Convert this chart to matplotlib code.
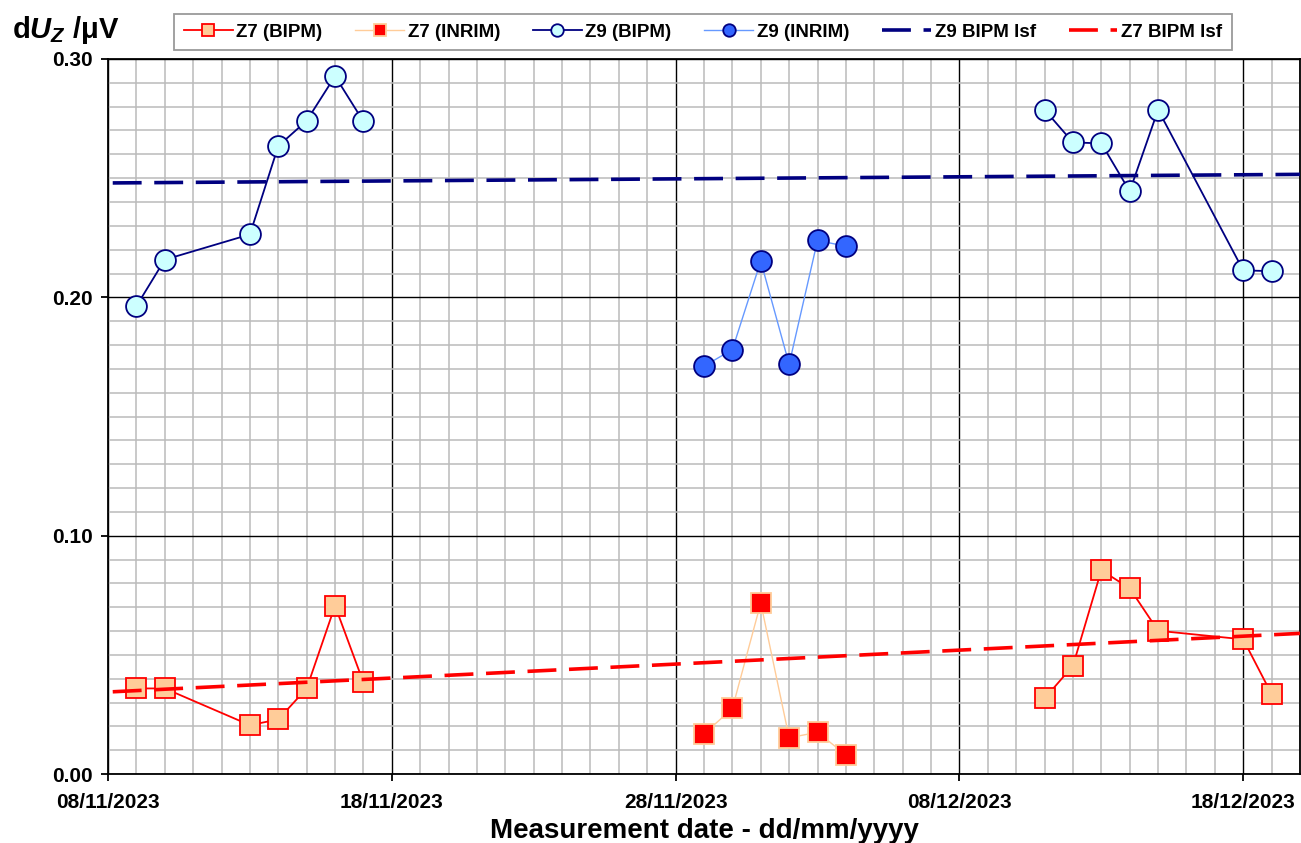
import numpy as np
import pandas as pd
import matplotlib
matplotlib.use('Agg')
import matplotlib.pyplot as plt
import matplotlib.dates as mdates
from matplotlib.ticker import MultipleLocator, FixedLocator, FormatStrFormatter

plt.rcParams['font.family'] = ['Liberation Sans', 'DejaVu Sans']
plt.rcParams['font.weight'] = 'bold'
plt.rcParams['mathtext.fontset'] = 'custom'
plt.rcParams['mathtext.it'] = 'Liberation Sans:italic:bold'
plt.rcParams['mathtext.rm'] = 'Liberation Sans:bold'

# data (dd/mm/yyyy, uV)
# BIPM measurements, before and after the travel to INRIM
bipm_dates_1 = ['09/11/2023', '10/11/2023', '13/11/2023', '14/11/2023', '15/11/2023',
                '16/11/2023', '17/11/2023']
bipm_dates_2 = ['11/12/2023', '12/12/2023', '13/12/2023', '14/12/2023', '15/12/2023',
                '18/12/2023', '19/12/2023']
z9_bipm_1 = [0.1963, 0.2158, 0.2264, 0.2635, 0.2741, 0.2928, 0.2738]
z9_bipm_2 = [0.2787, 0.2650, 0.2646, 0.2445, 0.2787, 0.2113, 0.2110]
z7_bipm_1 = [0.0359, 0.0359, 0.0205, 0.0229, 0.0359, 0.0706, 0.0384]
z7_bipm_2 = [0.0317, 0.0454, 0.0855, 0.0779, 0.0601, 0.0565, 0.0335]

inrim_dates = ['29/11/2023', '30/11/2023', '01/12/2023', '02/12/2023', '03/12/2023', '04/12/2023']
z9_inrim = [0.1711, 0.1781, 0.2152, 0.1719, 0.2239, 0.2214]
z7_inrim = [0.0168, 0.0275, 0.0718, 0.0152, 0.0175, 0.0080]

# least-squares fit lines (end points)
lsf_dates = ['08/11/2023 04:00', '20/12/2023 00:00']
z9_lsf = [0.2480, 0.2516]
z7_lsf = [0.0345, 0.0590]

tick_dates = ['08/11/2023', '18/11/2023', '28/11/2023', '08/12/2023', '18/12/2023']
x_range = ['08/11/2023', '20/12/2023']


def to_num(d):
    return mdates.date2num(pd.to_datetime(d, dayfirst=True, format='mixed'))


fig = plt.figure(figsize=(13.01, 8.43), dpi=100)
ax = fig.add_axes([108 / 1301, 1 - 774 / 843, 1192 / 1301, 715 / 843])

z7b = dict(color='#FF0000', lw=1.3, marker='s', ms=14, mfc='#FFCC99', mec='#FF0000',
           mew=1.3, zorder=3)
z7i = dict(color='#FFCC99', lw=1.0, marker='s', ms=14, mfc='#FF0000', mec='#FFCC99',
           mew=1.3, zorder=3)
z9b = dict(color='#000080', lw=1.3, marker='o', ms=15, mfc='#CCFFFF', mec='#000080',
           mew=1.3, zorder=3)
z9i = dict(color='#6699FF', lw=1.0, marker='o', ms=15, mfc='#3366FF', mec='#000080',
           mew=1.3, zorder=3)

ax.plot(to_num(bipm_dates_1), z7_bipm_1, label='Z7 (BIPM)', **z7b)
ax.plot(to_num(bipm_dates_2), z7_bipm_2, **z7b)
ax.plot(to_num(inrim_dates), z7_inrim, label='Z7 (INRIM)', **z7i)
ax.plot(to_num(bipm_dates_1), z9_bipm_1, label='Z9 (BIPM)', **z9b)
ax.plot(to_num(bipm_dates_2), z9_bipm_2, **z9b)
ax.plot(to_num(inrim_dates), z9_inrim, label='Z9 (INRIM)', **z9i)
ax.plot(to_num(lsf_dates), z9_lsf, color='#000080', lw=2.6, dashes=(8, 3.5),
        label='Z9 BIPM lsf', zorder=4)
ax.plot(to_num(lsf_dates), z7_lsf, color='#FF0000', lw=2.6, dashes=(8, 3.5),
        label='Z7 BIPM lsf', zorder=4)

ax.set_xlim(to_num(x_range[0]), to_num(x_range[1]))
ax.set_ylim(0, 0.30)

ax.xaxis.set_major_locator(FixedLocator(to_num(tick_dates)))
ax.xaxis.set_minor_locator(MultipleLocator(1))
ax.xaxis.set_major_formatter(mdates.DateFormatter('%d/%m/%Y'))
ax.yaxis.set_major_locator(MultipleLocator(0.10))
ax.yaxis.set_minor_locator(MultipleLocator(0.01))
ax.yaxis.set_major_formatter(FormatStrFormatter('%.2f'))

ax.grid(which='minor', color='#BBBBBB', lw=1.1, zorder=0)
ax.grid(which='major', color='black', lw=1.0, zorder=1)
ax.set_axisbelow(True)
ax.tick_params(which='major', direction='out', length=5, width=1.3, labelsize=15, pad=6)
ax.tick_params(axis='x', which='major', pad=9)
ax.tick_params(which='minor', length=0)
for s in ax.spines.values():
    s.set_linewidth(1.3)

ax.set_xlabel('Measurement date - dd/mm/yyyy', fontsize=20, fontweight='bold', labelpad=4)
fig.text(12 / 1301, 1 - 30 / 843, 'd$U_Z$ /μV', fontsize=21, fontweight='bold',
         ha='left', va='center')

leg = fig.legend(loc='center', bbox_to_anchor=(703 / 1301, 1 - 32 / 843), ncol=6,
                 fontsize=13.5, markerscale=0.6, handlelength=2.6, columnspacing=1.75,
                 handletextpad=0.2, frameon=True, fancybox=False, borderpad=0.5)
leg.get_frame().set_edgecolor('#808080')
leg.get_frame().set_linewidth(1.3)

fig.savefig('out.png', dpi=100)
